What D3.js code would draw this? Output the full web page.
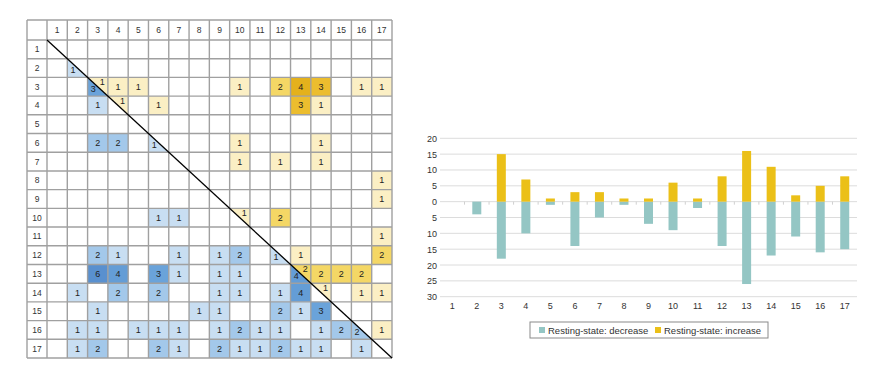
<!DOCTYPE html>
<html>
<head>
<meta charset="utf-8">
<script src="https://cdn.jsdelivr.net/npm/d3@7"></script>
<style>
  body { margin: 0; background: #fff; }
  text { font-family: "Liberation Sans", Arial, sans-serif; }
</style>
</head>
<body>
<div id="chart"></div>
<script>
// regions 1..17
var regions = d3.range(1, 18);

// matrix cells: [row, col, count]
var decreaseCells = [
  [2, 2, 1], [3, 3, 3], [4, 3, 1], [6, 3, 2], [6, 4, 2], [6, 6, 1],
  [10, 6, 1], [10, 7, 1],
  [12, 3, 2], [12, 4, 1], [12, 7, 1], [12, 9, 1], [12, 10, 2], [12, 12, 1],
  [13, 3, 6], [13, 4, 4], [13, 6, 3], [13, 7, 1], [13, 9, 1], [13, 10, 1], [13, 13, 4],
  [14, 2, 1], [14, 4, 2], [14, 6, 2], [14, 9, 1], [14, 10, 1], [14, 12, 1], [14, 13, 4],
  [15, 3, 1], [15, 8, 1], [15, 9, 1], [15, 12, 2], [15, 13, 1], [15, 14, 3],
  [16, 2, 1], [16, 3, 1], [16, 5, 1], [16, 6, 1], [16, 7, 1], [16, 9, 1], [16, 10, 2],
  [16, 11, 1], [16, 12, 1], [16, 14, 1], [16, 15, 2], [16, 16, 2],
  [17, 2, 1], [17, 3, 2], [17, 6, 2], [17, 7, 1], [17, 9, 2], [17, 10, 1], [17, 11, 1],
  [17, 12, 2], [17, 13, 1], [17, 14, 1], [17, 16, 1]
];
var increaseCells = [
  [3, 3, 1], [3, 4, 1], [3, 5, 1], [3, 10, 1], [3, 12, 2], [3, 13, 4], [3, 14, 3], [3, 16, 1], [3, 17, 1],
  [4, 4, 1], [4, 6, 1], [4, 13, 3], [4, 14, 1],
  [6, 10, 1], [6, 14, 1],
  [7, 10, 1], [7, 12, 1], [7, 14, 1],
  [8, 17, 1], [9, 17, 1],
  [10, 10, 1], [10, 12, 2],
  [11, 17, 1],
  [12, 13, 1], [12, 17, 2],
  [13, 13, 2], [13, 14, 2], [13, 15, 2], [13, 16, 2],
  [14, 14, 1], [14, 16, 1], [14, 17, 1],
  [16, 17, 1]
];

// bar chart values
var decreaseTotals = [0, 4, 18, 10, 1, 14, 5, 1, 7, 9, 2, 14, 26, 17, 11, 16, 15];
var increaseTotals = [0, 0, 15, 7, 1, 3, 3, 1, 1, 6, 1, 8, 16, 11, 2, 5, 8];
var yTicks = [20, 15, 10, 5, 0, -5, -10, -15, -20, -25, -30];

var svg = d3.select("#chart").append("svg")
  .attr("width", 887)
  .attr("height", 384);

svg.append("rect").attr("width", 887).attr("height", 384).attr("fill", "#fff");

// ================= matrix =================
var m = svg.append("g");

var xM = d3.scaleBand().domain(regions).range([47, 392]);
var yM = d3.scaleBand().domain(regions).range([40, 358]);
var cw = xM.bandwidth(), ch = yM.bandwidth();

var blue = d3.scaleLinear().domain([1, 2, 3, 6])
  .range(["#c8def2", "#a3c8ea", "#6aa3da", "#5990cf"]);
var yellow = d3.scaleLinear().domain([1, 2, 3, 4])
  .range(["#fbefc4", "#f4d765", "#ecbd2e", "#e4b11c"]);

function cellShape(d, lower) {
  var x0 = xM(d[1]), y0 = yM(d[0]), x1 = x0 + cw, y1 = y0 + ch;
  if (d[0] !== d[1]) return `M${x0},${y0}H${x1}V${y1}H${x0}Z`;
  return lower ? `M${x0},${y0}L${x0},${y1}L${x1},${y1}Z`
               : `M${x0},${y0}L${x1},${y0}L${x1},${y1}Z`;
}

m.selectAll("path.dec").data(decreaseCells).enter().append("path")
  .attr("class", "dec")
  .attr("d", d => cellShape(d, true))
  .attr("fill", d => blue(d[2]));

m.selectAll("path.inc").data(increaseCells).enter().append("path")
  .attr("class", "inc")
  .attr("d", d => cellShape(d, false))
  .attr("fill", d => yellow(d[2]));

// grid lines
var vLines = [27].concat(regions.map(r => xM(r))).concat([392]);
var hLines = [20].concat(regions.map(r => yM(r))).concat([358]);
m.selectAll("line.v").data(vLines).enter().append("line")
  .attr("x1", d => d).attr("x2", d => d).attr("y1", 20).attr("y2", 358)
  .attr("stroke", "#a0a0a0").attr("stroke-width", 1.4);
m.selectAll("line.h").data(hLines).enter().append("line")
  .attr("y1", d => d).attr("y2", d => d).attr("x1", 27).attr("x2", 392)
  .attr("stroke", "#a0a0a0").attr("stroke-width", 1.4);

// headers
m.selectAll("text.colh").data(regions).enter().append("text")
  .attr("x", d => xM(d) + cw / 2).attr("y", 33)
  .attr("text-anchor", "middle").attr("font-size", "8.5px").attr("fill", "#333")
  .text(d => d);
m.selectAll("text.rowh").data(regions).enter().append("text")
  .attr("x", 37).attr("y", d => yM(d) + ch / 2 + 3)
  .attr("text-anchor", "middle").attr("font-size", "8.5px").attr("fill", "#333")
  .text(d => d);

// cell numbers
function labelX(d, lower) {
  if (d[0] !== d[1]) return xM(d[1]) + cw / 2;
  return xM(d[1]) + (lower ? cw * 0.28 : cw * 0.72);
}
function labelY(d, lower) {
  if (d[0] !== d[1]) return yM(d[0]) + ch / 2 + 3;
  return yM(d[0]) + (lower ? ch * 0.78 : ch * 0.42);
}
m.selectAll("text.decn").data(decreaseCells).enter().append("text")
  .attr("x", d => labelX(d, true)).attr("y", d => labelY(d, true))
  .attr("text-anchor", "middle").attr("font-size", "9px").attr("fill", "#222")
  .text(d => d[2]);
m.selectAll("text.incn").data(increaseCells).enter().append("text")
  .attr("x", d => labelX(d, false)).attr("y", d => labelY(d, false))
  .attr("text-anchor", "middle").attr("font-size", "9px").attr("fill", "#222")
  .text(d => d[2]);

// diagonal
m.append("line")
  .attr("x1", xM(1)).attr("y1", yM(1))
  .attr("x2", xM(17) + cw).attr("y2", yM(17) + ch)
  .attr("stroke", "#000").attr("stroke-width", 1.3);

// ================= bar chart =================
var b = svg.append("g");

var xB = d3.scaleBand().domain(regions).range([440, 857]);
var yB = d3.scaleLinear().domain([-30, 20]).range([296.7, 138.3]);
var barW = 9;

b.selectAll("line.grid").data(yTicks).enter().append("line")
  .attr("x1", 440).attr("x2", 857)
  .attr("y1", d => yB(d)).attr("y2", d => yB(d))
  .attr("stroke", "#dcdcdc").attr("stroke-width", 1);

b.selectAll("text.ylab").data(yTicks).enter().append("text")
  .attr("x", 437).attr("y", d => yB(d) + 3.5)
  .attr("text-anchor", "end").attr("font-size", "9px").attr("fill", "#333")
  .text(d => Math.abs(d));

// small ticks on the zero line
b.selectAll("line.zt").data(regions.slice(1)).enter().append("line")
  .attr("x1", d => xB(d)).attr("x2", d => xB(d))
  .attr("y1", yB(0)).attr("y2", yB(0) + 3)
  .attr("stroke", "#d0d0d0");

b.selectAll("rect.dec").data(regions).enter().append("rect")
  .attr("x", d => xB(d) + xB.bandwidth() / 2 - barW / 2)
  .attr("y", yB(0))
  .attr("width", barW)
  .attr("height", (d, i) => yB(-decreaseTotals[i]) - yB(0))
  .attr("fill", "#94c6c4");

b.selectAll("rect.inc").data(regions).enter().append("rect")
  .attr("x", d => xB(d) + xB.bandwidth() / 2 - barW / 2)
  .attr("y", (d, i) => yB(increaseTotals[i]))
  .attr("width", barW)
  .attr("height", (d, i) => yB(0) - yB(increaseTotals[i]))
  .attr("fill", "#ebc018");

b.selectAll("text.xlab").data(regions).enter().append("text")
  .attr("x", d => xB(d) + xB.bandwidth() / 2).attr("y", 309)
  .attr("text-anchor", "middle").attr("font-size", "9px").attr("fill", "#333")
  .text(d => d);

// legend
var lg = b.append("g");
lg.append("rect")
  .attr("x", 530).attr("y", 322).attr("width", 238).attr("height", 16)
  .attr("fill", "#fff").attr("stroke", "#8a8a8a").attr("stroke-width", 1);
lg.append("rect").attr("x", 539).attr("y", 327).attr("width", 6).attr("height", 6).attr("fill", "#94c6c4");
lg.append("text").attr("x", 548).attr("y", 333.5).attr("font-size", "9.5px").attr("fill", "#333")
  .text("Resting-state: decrease");
lg.append("rect").attr("x", 655).attr("y", 327).attr("width", 6).attr("height", 6).attr("fill", "#ebc018");
lg.append("text").attr("x", 664).attr("y", 333.5).attr("font-size", "9.5px").attr("fill", "#333")
  .text("Resting-state: increase");
</script>
</body>
</html>
